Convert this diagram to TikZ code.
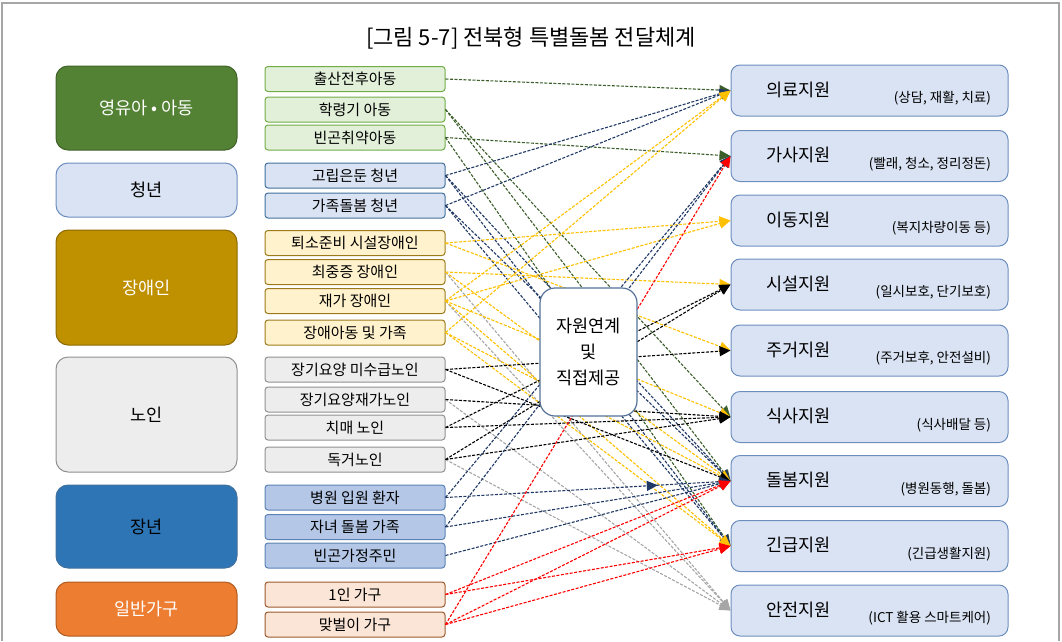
\documentclass[tikz,border=0pt]{standalone}
\usepackage{fontspec}
\setmainfont{Noto Sans CJK KR}
\usetikzlibrary{arrows.meta,decorations.markings}
\definecolor{dgreen}{HTML}{548235}\definecolor{dgreenb}{HTML}{3F6328}
\definecolor{lgreen}{HTML}{E2F0D9}\definecolor{lgreenb}{HTML}{70AD47}
\definecolor{lblue}{HTML}{DAE3F3}\definecolor{lblueb}{HTML}{6C8EBF}
\definecolor{sblueb}{HTML}{41719C}
\definecolor{gold}{HTML}{BF9000}\definecolor{goldb}{HTML}{8C6A00}
\definecolor{lgold}{HTML}{FFF2CC}\definecolor{lgoldb}{HTML}{9C7A1C}
\definecolor{lgray}{HTML}{EDEDED}\definecolor{lgrayb}{HTML}{909090}
\definecolor{mblue}{HTML}{2E75B6}\definecolor{mblueb}{HTML}{41719C}
\definecolor{pblue}{HTML}{B4C7E7}\definecolor{pblueb}{HTML}{5B82B5}
\definecolor{orng}{HTML}{ED7D31}\definecolor{orngb}{HTML}{AE5A21}
\definecolor{lorng}{HTML}{FBE5D6}\definecolor{lorngb}{HTML}{9C5A2E}
\definecolor{lg}{HTML}{3B5E2B}\definecolor{ln}{HTML}{203864}
\definecolor{ly}{HTML}{FFC000}\definecolor{la}{HTML}{A6A6A6}
\definecolor{lr}{HTML}{FF0000}\definecolor{frame}{HTML}{A6A6A6}
\newcommand{\grp}[7]{\node[draw=#5,fill=#4,text=#6,rounded corners=12pt,line width=1pt,minimum width=181pt,minimum height=#3pt,font=\fontsize{17.5}{20}\selectfont] (#1) at (146.5,#2) {#7};}
\newcommand{\sub}[5]{\node[draw=#4,fill=#3,rounded corners=3pt,line width=1pt,minimum width=180pt,minimum height=25pt,font=\fontsize{15}{16}\selectfont] (#1) at (355,#2) {#5};}
\newcommand{\svc}[4]{\node[draw=lblueb,fill=lblue,rounded corners=9pt,line width=1pt,minimum width=277pt,minimum height=51pt] (#1) at (869.5,#2) {};
  \node[anchor=west,font=\fontsize{17.5}{20}\selectfont] (#1-t) at ([xshift=32pt,yshift=1pt]#1.west) {#3};
  \node[anchor=east,font=\fontsize{13.5}{16}\selectfont] (#1-s) at ([xshift=-14pt,yshift=-8pt]#1.east) {#4};}
\newcommand{\lnk}[3]{\draw[flow,#1] (#2.east) -- (#3.west);}

\begin{document}
\begin{tikzpicture}[x=1pt,y=-1pt,
    flow/.style={dash pattern=on 3pt off 1.5pt,line width=1.1pt,-{Triangle[length=11pt,width=10pt]}},
    midtip/.style={postaction={decorate},decoration={markings,mark=at position 0.745 with {\arrow{Triangle[length=11pt,width=10pt]}}}}]
    \useasboundingbox (0,0) rectangle (1062,641);
    \draw[frame,line width=2pt] (2,641) -- (2,3) -- (1059,3) -- (1059,641);
    \node[font=\fontsize{22}{26}\selectfont] (title) at (531,38) {[그림 5-7] 전북형 특별돌봄 전달체계};
    % groups
    \grp{g1}{108}{84}{dgreen}{dgreenb}{white}{영유아 • 아동}
    \grp{g2}{190}{54}{lblue}{lblueb}{black}{청년}
    \grp{g3}{287.5}{115}{gold}{goldb}{white}{장애인}
    \grp{g4}{414.5}{115}{lgray}{lgrayb}{black}{노인}
    \grp{g5}{526.5}{83}{mblue}{mblueb}{black}{장년}
    \grp{g6}{609}{54}{orng}{orngb}{white}{일반가구}
    % targets
    \sub{c1}{79}{lgreen}{lgreenb}{출산전후아동}
    \sub{c2}{109.5}{lgreen}{lgreenb}{학령기 아동}
    \sub{c3}{137.5}{lgreen}{lgreenb}{빈곤취약아동}
    \sub{y1}{175.5}{lblue}{sblueb}{고립은둔 청년}
    \sub{y2}{205.5}{lblue}{sblueb}{가족돌봄 청년}
    \sub{d1}{243}{lgold}{lgoldb}{퇴소준비 시설장애인}
    \sub{d2}{272}{lgold}{lgoldb}{최중증 장애인}
    \sub{d3}{301}{lgold}{lgoldb}{재가 장애인}
    \sub{d4}{332.5}{lgold}{lgoldb}{장애아동 및 가족}
    \sub{e1}{369.5}{lgray}{lgrayb}{장기요양 미수급노인}
    \sub{e2}{399.5}{lgray}{lgrayb}{장기요양재가노인}
    \sub{e3}{427.5}{lgray}{lgrayb}{치매 노인}
    \sub{e4}{459.5}{lgray}{lgrayb}{독거노인}
    \sub{m1}{497.5}{pblue}{pblueb}{병원 입원 환자}
    \sub{m2}{527}{pblue}{pblueb}{자녀 돌봄 가족}
    \sub{m3}{555.5}{pblue}{pblueb}{빈곤가정주민}
    \sub{h1}{594.5}{lorng}{lorngb}{1인 가구}
    \sub{h2}{624.5}{lorng}{lorngb}{맞벌이 가구}
    % services
    \svc{t1}{90.5}{의료지원}{(상담, 재활, 치료)}
    \svc{t2}{156}{가사지원}{(빨래, 청소, 정리정돈)}
    \svc{t3}{220.5}{이동지원}{(복지차량이동 등)}
    \svc{t4}{284.5}{시설지원}{(일시보호, 단기보호)}
    \svc{t5}{350.5}{주거지원}{(주거보후, 안전설비)}
    \svc{t6}{417}{식사지원}{(식사배달 등)}
    \svc{t7}{481}{돌봄지원}{(병원동행, 돌봄)}
    \svc{t8}{546}{긴급지원}{(긴급생활지원)}
    \svc{t9}{610.5}{안전지원}{(ICT 활용 스마트케어)}
    % links
    \lnk{lg}{c1}{t1}\lnk{lg}{c2}{t6}\lnk{lg}{c2}{t7}\lnk{lg}{c3}{t2}\lnk{lg}{c3}{t8}
    \lnk{ln}{y1}{t1}\lnk{ln}{y2}{t1}\lnk{ln}{y1}{t7}\lnk{ln}{y1}{t8}\lnk{ln}{y2}{t7}\lnk{ln}{y2}{t8}
    \lnk{la}{d2}{t9}\lnk{la}{d3}{t9}\lnk{la}{e2}{t9}\lnk{la}{e4}{t9}
    \lnk{ly}{d1}{t3}\lnk{ly}{d1}{t5}\lnk{ly}{d2}{t4}\lnk{ly}{d2}{t7}\lnk{ly}{d3}{t1}\lnk{ly}{d3}{t3}
    \lnk{ly}{d3}{t6}\lnk{ly}{d3}{t8}\lnk{ly}{d4}{t1}\lnk{ly}{d4}{t7}\lnk{ly}{d4}{t8}
    \lnk{black}{e1}{t5}\lnk{black}{e1}{t7}\lnk{black}{e2}{t6}\lnk{black}{e3}{t4}
    \lnk{black}{e3}{t6}\lnk{black}{e4}{t4}\lnk{black}{e4}{t6}
    \lnk{ln}{m1}{t2}\lnk{ln}{m2}{t2}\lnk{ln,midtip}{m1}{t7}\lnk{ln}{m2}{t7}\lnk{ln}{m3}{t7}
    \lnk{lr}{h1}{t7}\lnk{lr}{h1}{t8}\lnk{lr}{h2}{t2}\lnk{lr}{h2}{t7}\lnk{lr}{h2}{t8}
    % hub on top
    \node[draw=lblueb!80!black,fill=white,rounded corners=15pt,line width=1.2pt,minimum width=97pt,minimum height=128pt,align=center,font=\fontsize{17.5}{26}\selectfont] (hub) at (588.5,352) {자원연계\\및\\직접제공};
\end{tikzpicture}
\end{document}
